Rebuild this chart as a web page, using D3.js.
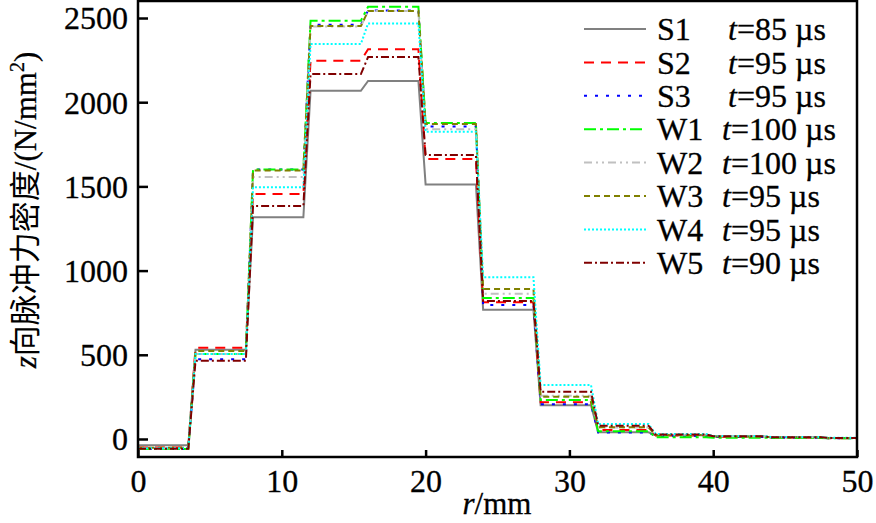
<!DOCTYPE html>
<html><head><meta charset="utf-8">
<script src="https://cdn.jsdelivr.net/npm/d3@7/dist/d3.min.js"></script>
<style>
html,body{margin:0;padding:0;background:#fff;}
svg{display:block;}
svg text{font-family:"Liberation Serif","Times New Roman",serif !important;fill:#000;stroke:#000;stroke-width:0.3px;}
svg text tspan.cjk{font-family:"Noto Sans CJK SC",sans-serif !important;stroke-width:0;}
</style>
</head><body>
<svg id="chart" width="876" height="523"></svg>
<script>
// step segments along r (mm)
const segStart = [0, 4, 8, 12, 16, 20, 24, 28, 32, 36, 40, 44, 48];
const segEnd   = [3.5, 7.5, 11.5, 15.5, 19.5, 23.5, 27.5, 31.5, 35.5, 39.5, 43.5, 47.5, 50];

const seriesNames = ["S1", "S2", "S3", "W1", "W2", "W3", "W4", "W5"];
const seriesTimes = ["85", "95", "95", "100", "100", "95", "95", "90"];

const S1 = [-37, 530, 1317, 2068, 2126, 1512, 768, 200, 40, 22, 15, 10, 6];
const S2 = [-50, 542, 1455, 2246, 2314, 1663, 812, 218, 53, 20, 14, 9, 5];
const S3 = [-60, 473, 1601, 2460, 2545, 1855, 796, 206, 38, 18, 12, 8, 5];
const W1 = [-60, 505, 1600, 2484, 2567, 1877, 837, 232, 46, 10, 8, 6, 4];
const W2 = [-55, 505, 1556, 2450, 2541, 1839, 862, 257, 68, 25, 16, 10, 6];
const W3 = [-52, 522, 1595, 2452, 2541, 1870, 891, 251, 69, 24, 15, 10, 6];
const W4 = [-55, 505, 1495, 2346, 2468, 1825, 961, 321, 89, 30, 18, 12, 7];
const W5 = [-58, 465, 1384, 2167, 2268, 1686, 819, 281, 79, 27, 16, 10, 6];

const xTicks = [0, 10, 20, 30, 40, 50];
const yTicks = [0, 500, 1000, 1500, 2000, 2500];

const seriesValues = [S1, S2, S3, W1, W2, W3, W4, W5];
const colors = ["#808080", "#ff0000", "#0000ff", "#00ff00", "#c0c0c0", "#808000", "#00ffff", "#800000"];
const dashes = [null, "10,7", "3,8", "12,4,3,4", "8,4,2,4,2,4", "6,4", "2,2", "8,3,2,3"];

const svg = d3.select("#chart");
const L = 138, R = 857, T = 1, B = 457;
const x = d3.scaleLinear().domain([0, 50]).range([L, R]);
const y = d3.scaleLinear().domain([-107, 2601]).range([B, T]);

const line = d3.line().x(d => x(d[0])).y(d => y(d[1]));

seriesValues.forEach((vals, i) => {
  const pts = [];
  vals.forEach((v, k) => { pts.push([segStart[k], v]); pts.push([segEnd[k], v]); });
  svg.append("path").attr("d", line(pts))
    .attr("fill", "none").attr("stroke", colors[i]).attr("stroke-width", 2)
    .attr("stroke-dasharray", dashes[i]);
});

// frame
svg.append("rect").attr("x", L).attr("y", T).attr("width", R - L).attr("height", B - T)
  .attr("fill", "none").attr("stroke", "#000").attr("stroke-width", 2.5);

// axes (inward ticks)
const xAxis = d3.axisBottom(x).tickValues(xTicks).tickFormat(d3.format("d"))
  .tickSizeInner(-7).tickSizeOuter(0).tickPadding(11);
const gx = svg.append("g").attr("transform", `translate(0,${B})`).call(xAxis);
gx.attr("font-family", null);
gx.select(".domain").remove();
gx.selectAll("line").attr("stroke", "#000").attr("stroke-width", 2.5);
gx.selectAll("text").attr("font-size", 32).attr("dy", "0.75em");

const yAxis = d3.axisLeft(y).tickValues(yTicks).tickFormat(d3.format("d"))
  .tickSizeInner(-10).tickSizeOuter(0).tickPadding(10);
const gy = svg.append("g").attr("transform", `translate(${L},0)`).call(yAxis);
gy.attr("font-family", null);
gy.select(".domain").remove();
gy.selectAll("line").attr("stroke", "#000").attr("stroke-width", 2.5);
gy.selectAll("text").attr("font-size", 32).attr("dy", "0.34em");

// axis titles
const xl = svg.append("text").attr("x", 497).attr("y", 514).attr("text-anchor", "middle").attr("font-size", 31);
xl.append("tspan").attr("font-style", "italic").text("r");
xl.append("tspan").text("/mm");

const yl = svg.append("text").attr("transform", "translate(36,210) rotate(-90)")
  .attr("text-anchor", "middle").attr("font-size", 31);
yl.append("tspan").attr("font-style", "italic").text("z");
yl.append("tspan").attr("class", "cjk").text("向脉冲力密度");
yl.append("tspan").text("/(N/mm");
yl.append("tspan").attr("dy", -12).attr("font-size", 20).text("2");
yl.append("tspan").attr("dy", 12).text(")");

// legend
seriesNames.forEach((nm, i) => {
  const yy = 29 + i * 33.4;
  svg.append("line").attr("x1", 584).attr("x2", 646).attr("y1", yy).attr("y2", yy)
    .attr("stroke", colors[i]).attr("stroke-width", 2).attr("stroke-dasharray", dashes[i]);
  svg.append("text").attr("x", 657).attr("y", yy).attr("dy", "0.35em").attr("font-size", 32).text(nm);
  const t = svg.append("text").attr("x", nm[0] === "S" ? 728 : 722).attr("y", yy).attr("dy", "0.35em").attr("font-size", 32);
  t.append("tspan").attr("font-style", "italic").text("t");
  t.append("tspan").text("=" + seriesTimes[i] + " µs");
});
</script>
</body></html>
